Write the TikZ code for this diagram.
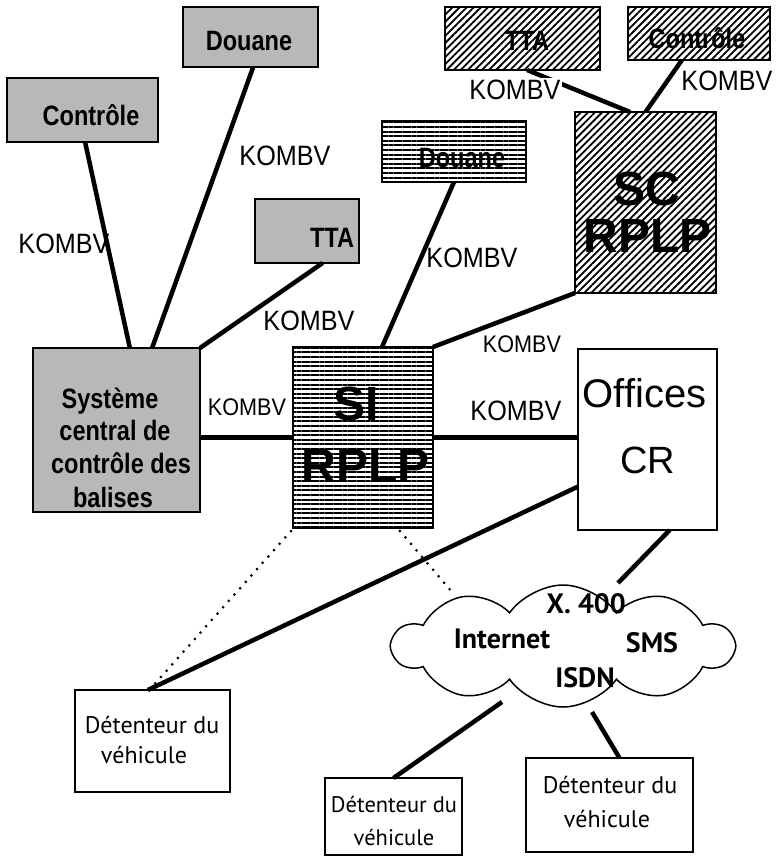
\documentclass[tikz,border=0pt]{standalone}
\usepackage{fontspec}
\setmainfont{Liberation Sans}
\newfontfamily\condsans[FakeStretch=0.9]{Liberation Sans}
\newfontfamily\condlbl[FakeStretch=0.84]{Liberation Sans}
\newfontfamily\plainsans{Liberation Sans}
\newfontfamily\roundsans{PT Sans}
\usetikzlibrary{calc,patterns.meta,shapes.symbols}
\definecolor{stipple}{gray}{0.72}
\newcommand\fsz[1]{\fontsize{#1}{#1}\selectfont}

\tikzset{
  conn/.style={line width=4.5pt},
  dotconn/.style={line width=3pt, line cap=round, dash pattern=on 0pt off 8.5pt},
  anybox/.style={draw, line width=2.5pt, inner sep=0pt, outer sep=0pt},
  gbox/.style={anybox, fill=stipple},
  hbox/.style={anybox, pattern={Lines[angle=0,distance=4.6pt,line width=2pt]}},
  dbox/.style={anybox, pattern={Lines[angle=45,distance=5pt,line width=1.8pt]}},
  wbox/.style={anybox, fill=white},
  detbox/.style={draw, line width=2pt, fill=white, inner sep=0pt, outer sep=0pt},
  lbl/.style={anchor=base, inner sep=0pt, font=\condlbl\bfseries\fsz{28}},
  kombv/.style={anchor=base, inner sep=0pt, font=\condsans\fsz{28}},
  kombvs/.style={kombv, font=\condsans\fsz{24}},
  big/.style={anchor=base, inner sep=0pt, font=\plainsans\bfseries\fsz{48}},
  offtxt/.style={anchor=base, inner sep=0pt, font=\plainsans\fsz{40}},
  dettxt/.style={anchor=base, inner sep=0pt, font=\roundsans\fsz{24}},
  dettxts/.style={dettxt, font=\roundsans\fsz{22.5}},
  nettxt/.style={anchor=base, inner sep=0pt, font=\roundsans\bfseries\fsz{28}},
}

\begin{document}
\begin{tikzpicture}[x=1pt,y=-1pt]
\useasboundingbox (0,0) rectangle (778,863);

% ---- boxes ----
\node[gbox, minimum width=151pt, minimum height=64pt] (ctrlL) at (82.5,110) {};
\node[gbox, minimum width=135pt, minimum height=60pt] (douT) at (250.5,37) {};
\node[gbox, minimum width=104pt, minimum height=64pt] (ttaL) at (307,231) {};
\node[gbox, minimum width=167pt, minimum height=164pt] (sys) at (116.5,430) {};
\node[hbox, minimum width=144pt, minimum height=61pt] (douS) at (454,151.5) {};
\node[hbox, minimum width=140pt, minimum height=181pt] (si) at (363,437.5) {};
\node[dbox, minimum width=155pt, minimum height=63pt] (ttaR) at (522.5,38.5) {};
\node[dbox, minimum width=142pt, minimum height=53pt] (ctrlR) at (699,33.5) {};
\node[dbox, minimum width=141pt, minimum height=181pt] (sc) at (645.5,202.5) {};
\node[wbox, minimum width=139pt, minimum height=181pt] (off) at (647.5,439.5) {};
\node[detbox, minimum width=155pt, minimum height=102pt] (detL) at (152.5,741) {};
\node[detbox, minimum width=137pt, minimum height=77pt] (detM) at (393.5,816.5) {};
\node[detbox, minimum width=167pt, minimum height=94pt] (detR) at (609.5,805) {};
\node[cloud, draw, line width=1.5pt, fill=white, cloud puffs=10, cloud puff arc=110,
      aspect=2.8, minimum width=340pt, minimum height=122pt, inner sep=0pt] (net) at (563,646) {};

% attachment points on the cloud outline
\coordinate (netA) at (452,592);
\coordinate (netB) at (618,583);
\coordinate (netC) at (502,702);
\coordinate (netD) at (592,712);

% ---- connectors ----
\draw[conn] ($(ctrlL.south west)!0.517!(ctrlL.south east)$) -- ($(sys.north west)!0.58!(sys.north east)$);
\draw[conn] ($(douT.south west)!0.52!(douT.south east)$) -- ($(sys.north west)!0.713!(sys.north east)$);
\draw[conn] ($(ttaL.south west)!0.65!(ttaL.south east)$) -- (sys.north east);
\draw[conn] (sys.east |- si.west) -- (si.west);
\draw[conn] (douS.south) -- ($(si.north west)!0.636!(si.north east)$);
\draw[conn] (sc.south west) -- (si.north east);
\draw[conn] ($(ttaR.south west)!0.53!(ttaR.south east)$) -- ($(sc.north west)!0.39!(sc.north east)$);
\draw[conn] ($(ctrlR.south west)!0.38!(ctrlR.south east)$) -- (sc.north);
\draw[conn] (si.east) -- (off.west |- si.east);
\draw[conn] ($(off.north west)!0.76!(off.south west)$) -- ($(detL.north west)!0.47!(detL.north east)$);
\draw[dotconn] ($(si.south west)+(-2,3)$) -- ($(detL.north west)!0.48!(detL.north east)$);
\draw[dotconn] ($(si.south west)!0.764!(si.south east)+(0,3)$) -- (netA);
\draw[conn] ($(off.south west)!0.66!(off.south east)$) -- (netB);
\draw[conn] (netC) -- (detM.north);
\draw[conn] (netD) -- ($(detR.north west)!0.56!(detR.north east)$);

% ---- box texts ----
\node[lbl] (ctrlLt) at (91,125) {Contrôle};
\node[lbl] (douTt) at (249,50) {Douane};
\node[lbl] (ttaLt) at (332,247) {TTA};
\node[lbl] (douSt) at (462,167) {Douane};
\node[lbl] (ttaRt) at (527,50) {TTA};
\node[lbl] (ctrlRt) at (697,48) {Contrôle};

\node[lbl] (sys1) at (110,408) {Système};
\node[lbl] (sys2) at (115,440) {central de};
\node[lbl] (sys3) at (121,473) {contrôle des};
\node[lbl] (sys4) at (113,507) {balises};

\node[big] (sc1) at (646.5,205) {SC};
\node[big] (sc2) at (647.5,252) {RPLP};
\node[big] (si1) at (356,420) {SI};
\node[big] (si2) at (366,482) {RPLP};
\node[offtxt] (off1) at (644.5,407) {Offices};
\node[offtxt, font=\plainsans\fsz{38}] (off2) at (648,473) {CR};

\node[dettxt] (detL1) at (152,733) {Détenteur du};
\node[dettxt] (detL2) at (144,763) {véhicule};
\node[dettxts] (detM1) at (394,812) {Détenteur du};
\node[dettxts] (detM2) at (394,845) {véhicule};
\node[dettxt] (detR1) at (610,793) {Détenteur du};
\node[dettxt] (detR2) at (607,827) {véhicule};

\node[nettxt] (net1) at (586,613) {X. 400};
\node[nettxt] (net2) at (502,648) {Internet};
\node[nettxt] (net3) at (652,652) {SMS};
\node[nettxt] (net4) at (585,687) {ISDN};

% ---- link labels ----
\node[kombv] (k1) at (64,253) {KOMBV};
\node[kombv] (k2) at (285,165) {KOMBV};
\node[kombv] (k3) at (309,330) {KOMBV};
\node[kombv] (k4) at (472,267) {KOMBV};
\node[kombvs] (k5) at (522,352) {KOMBV};
\node[kombvs] (k6) at (247,415) {KOMBV};
\node[kombv] (k7) at (516,420) {KOMBV};
\node[kombv, fill=white, inner sep=1pt] (k8) at (515,99) {KOMBV};
\node[kombv] (k9) at (727,90) {KOMBV};
\end{tikzpicture}
\end{document}
